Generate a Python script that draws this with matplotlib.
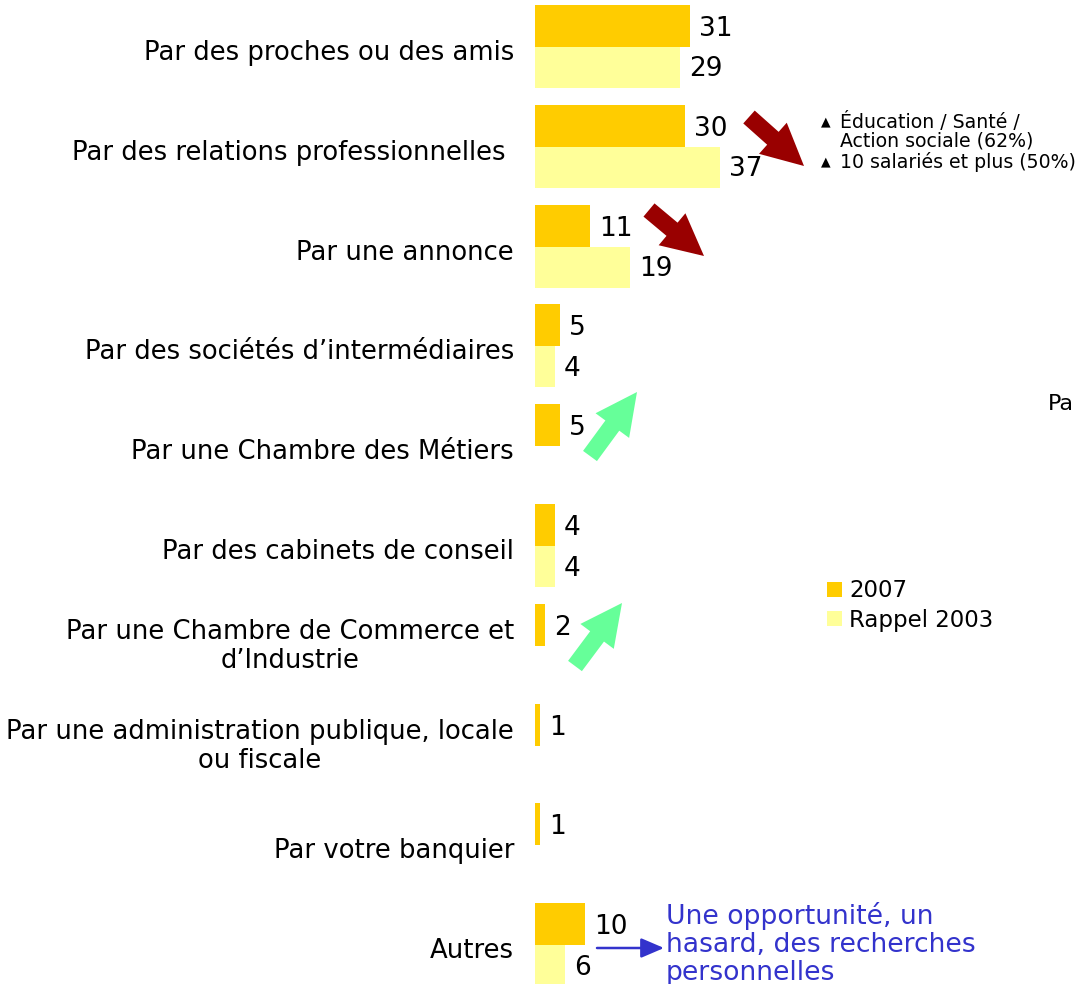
import numpy as np
import matplotlib.pyplot as plt

# Données
categories = [
    "Par des proches ou des amis",
    "Par des relations professionnelles ",
    "Par une annonce",
    "Par des sociétés d'intermédiaires",
    "Par une Chambre des Métiers",
    "Par des cabinets de conseil",
    "Par une Chambre de Commerce et\nd'Industrie",
    "Par une administration publique, locale\nou fiscale",
    "Par votre banquier",
    "Autres",
]
categories = [c.replace("'", "\u2019") for c in categories]
val_2007 = [31, 30, 11, 5, 5, 4, 2, 1, 1, 10]
val_2003 = [29, 37, 19, 4, None, 4, None, None, None, 6]

col_2007 = "#FFCC00"
col_2003 = "#FFFF99"

W, H = 1078, 984
fig = plt.figure(figsize=(W / 100, H / 100), dpi=100)
ax = fig.add_axes([0, 0, 1, 1])

# 0 à 535 px, 5 px par point
x0, scale = 535, 5.0
ax.set_xlim(-x0 / scale, (W - x0) / scale)
ax.set_ylim(H, 0)
ax.axis("off")

def px(x):
    return (x - x0) / scale

step = 99.8
idx = np.arange(len(categories))
y_a = 26 + step * idx
y_b = 67.5 + step * idx

v07 = np.array(val_2007, dtype=float)
v03 = np.array([np.nan if v is None else v for v in val_2003])

ax.barh(y_a, v07, height=42, color=col_2007, label="2007")
ax.barh(y_b, v03, height=41, color=col_2003, label="Rappel 2003")

for i in idx:
    ax.text(v07[i] + 1.8, y_a[i] + 3, f"{val_2007[i]}", fontsize=19,
            va="center", ha="left")
    if not np.isnan(v03[i]):
        ax.text(v03[i] + 1.8, y_b[i] + 2, f"{val_2003[i]}", fontsize=19,
                va="center", ha="left")
    dy = 1 if "\n" in categories[i] else 6
    ax.text(px(514), 47 + step * i + dy, categories[i], fontsize=18.6,
            ha="right", va="center", linespacing=1.15, multialignment="center")

# flèches rouges (baisse) et vertes (hausse)
def fleche(x1, y1, x2, y2, col):
    ax.annotate("", xy=(px(x2), y2), xytext=(px(x1), y1),
                arrowprops=dict(arrowstyle="simple,head_length=1.5,head_width=1.5,tail_width=0.62",
                                mutation_scale=20, color=col, lw=0,
                                shrinkA=0, shrinkB=0))

fleche(749, 117, 804, 166, "#990000")
fleche(649, 210, 704, 256, "#990000")
fleche(590, 456, 637, 392, "#66FF99")
fleche(575, 666, 622, 603, "#66FF99")

# notes à droite
ax.text(px(821), 122, "\u25B2", fontsize=9, va="center")
ax.text(px(840), 122, "Éducation / Santé /", fontsize=13.6, va="center")
ax.text(px(840), 141, "Action sociale (62%)", fontsize=13.6, va="center")
ax.text(px(821), 162, "\u25B2", fontsize=9, va="center")
ax.text(px(840), 162, "10 salariés et plus (50%)", fontsize=13.6, va="center")

ax.text(px(1048), 404, "Pa", fontsize=16, va="center")

# texte bleu pour "Autres"
blue = "#3333CC"
ax.annotate("", xy=(px(664), 948), xytext=(px(597), 948),
            arrowprops=dict(arrowstyle="-|>,head_length=0.7,head_width=0.3",
                            mutation_scale=20, color=blue, lw=1.8,
                            shrinkA=0, shrinkB=0))
ax.text(px(666), 944, "Une opportunité, un\nhasard, des recherches\npersonnelles",
        fontsize=19.2, color=blue, va="center", ha="left", linespacing=1.1)

ax.legend(loc="upper left", bbox_to_anchor=(816 / W, 1 - 568 / H),
          bbox_transform=fig.transFigure, frameon=False, fontsize=16.5,
          handlelength=0.65, handleheight=0.65, handletextpad=0.3,
          labelspacing=0.28, borderpad=0)

plt.savefig("out.png", dpi=100)
